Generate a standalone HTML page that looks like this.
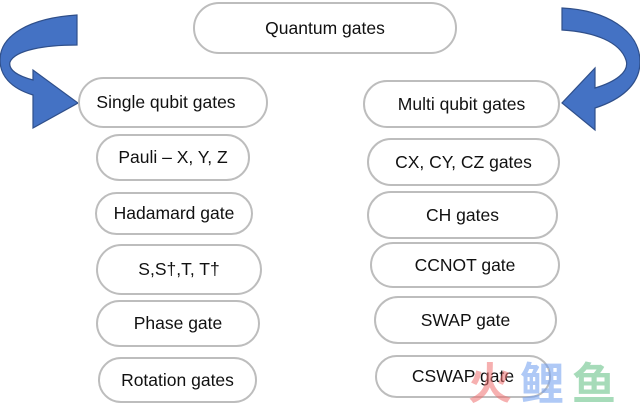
<!DOCTYPE html>
<html><head><meta charset="utf-8"><style>
html,body{margin:0;padding:0;background:#fff;}
body{width:640px;height:404px;position:relative;overflow:hidden;font-family:"Liberation Sans",Arial,sans-serif;}
.p{position:absolute;box-sizing:border-box;border:2px solid #bdbdbd;border-radius:999px;background:#fff;display:flex;align-items:center;justify-content:center;font-size:17.5px;color:#111;}
.wm{position:absolute;font-family:"Noto Sans CJK SC",sans-serif;font-weight:bold;font-size:44px;line-height:44px;opacity:.55;}
svg{position:absolute;left:0;top:0;}
</style></head><body>
<svg width="640" height="404">
<path d="M77,15 C30,18 0,35 0,60 C0,75 10,88 33,95 L33,128 L78,103 L33,70 L33,80 C18,76 8,70 10,62 C15,50 45,45 77,45 Z" fill="#4472c4" stroke="#2f4f8a" stroke-width="1.2"/>
<path d="M562,8 C605,10 640,30 640,62 C640,85 620,100 595,108 L595,130 L562,103 L595,68 L595,88 C615,82 630,72 626,60 C620,42 595,32 562,30 Z" fill="#4472c4" stroke="#2f4f8a" stroke-width="1.2"/>
</svg>
<div class="p" style="left:193px;top:2px;width:264px;height:52px;">Quantum gates</div>
<div class="p" style="left:78px;top:77px;width:190px;height:51px;padding-right:14px;">Single qubit gates</div>
<div class="p" style="left:96px;top:134px;width:154px;height:47px;">Pauli – X, Y, Z</div>
<div class="p" style="left:95px;top:192px;width:158px;height:43px;">Hadamard gate</div>
<div class="p" style="left:96px;top:244px;width:166px;height:51px;">S,S†,T, T†</div>
<div class="p" style="left:96px;top:300px;width:164px;height:47px;">Phase gate</div>
<div class="p" style="left:98px;top:357px;width:159px;height:46px;">Rotation gates</div>
<div class="p" style="left:363px;top:80px;width:197px;height:48px;">Multi qubit gates</div>
<div class="p" style="left:367px;top:138px;width:193px;height:48px;">CX, CY, CZ gates</div>
<div class="p" style="left:367px;top:191px;width:191px;height:48px;">CH gates</div>
<div class="p" style="left:370px;top:242px;width:190px;height:46px;">CCNOT gate</div>
<div class="p" style="left:374px;top:296px;width:183px;height:48px;">SWAP gate</div>
<div class="p" style="left:375px;top:355px;width:176px;height:43px;background:transparent;">CSWAP gate</div>
<div class="wm" style="left:468px;top:358px;color:#f07070;">火</div>
<div class="wm" style="left:520px;top:358px;color:#6f9ef0;">鲤</div>
<div class="wm" style="left:572px;top:358px;color:#5fbf80;">鱼</div>
</body></html>
